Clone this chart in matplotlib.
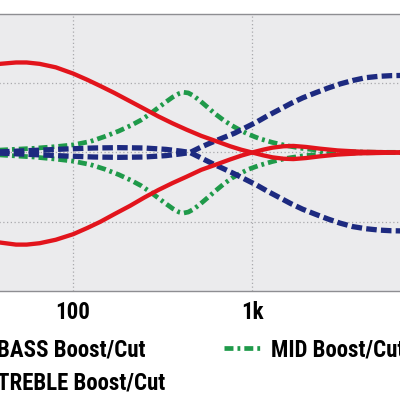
import matplotlib
matplotlib.use("Agg")
import matplotlib.pyplot as plt
from matplotlib.ticker import FixedLocator, NullLocator

COLOR_BASS = "#e2141c"
COLOR_MID = "#1f9a4a"
COLOR_TREBLE = "#1d2a80"
COLOR_FONDO = "#ebebed"
COLOR_GRID = "#a9a9ad"

FUENTE = ["Roboto Condensed", "Liberation Sans Narrow", "DejaVu Sans"]

# Frecuencias (Hz) y respuesta (dB) de cada control
bass_freq = [20, 30, 39, 48, 55, 65, 80, 100, 120, 142, 170, 208, 250, 300,
             360, 430, 520, 620, 754, 870, 1000, 1150, 1300, 1500, 1700,
             2000, 2400, 3000, 4000, 6000, 20000]
bass_boost = [11.0, 12.3, 12.8, 13.0, 13.0, 12.8, 12.3, 11.4, 10.5, 9.6,
              8.6, 7.4, 6.3, 5.2, 4.2, 3.3, 2.4, 1.7, 0.9, 0.4, 0.0, -0.4,
              -0.7, -0.9, -0.95, -0.8, -0.55, -0.3, -0.12, -0.03, 0.0]
bass_cut = [-11.2, -12.5, -13.0, -13.3, -13.3, -13.1, -12.6, -11.8, -10.9,
            -10.0, -8.9, -7.7, -6.5, -5.4, -4.4, -3.5, -2.5, -1.8, -1.0,
            -0.45, 0.0, 0.4, 0.7, 0.9, 0.95, 0.8, 0.55, 0.3, 0.12, 0.03, 0.0]

mid_freq = [20, 39, 60, 80, 100, 125, 150, 180, 210, 240, 270, 300, 330,
            360, 390, 412, 440, 470, 510, 560, 620, 690, 770, 860, 960,
            1100, 1300, 1550, 1900, 2400, 3200, 5000, 20000]
mid_boost = [0.1, 0.35, 0.6, 0.85, 1.1, 1.6, 2.3, 3.1, 3.9, 4.7, 5.6, 6.5,
             7.3, 8.0, 8.5, 8.7, 8.6, 8.2, 7.5, 6.6, 5.6, 4.7, 3.9, 3.2,
             2.6, 2.0, 1.45, 1.0, 0.6, 0.3, 0.12, 0.03, 0.0]
mid_cut = [-0.1, -0.35, -0.65, -0.95, -1.25, -1.75, -2.4, -3.2, -4.0,
           -4.8, -5.7, -6.6, -7.4, -8.1, -8.6, -8.75, -8.6, -8.2, -7.5,
           -6.6, -5.6, -4.6, -3.7, -3.0, -2.4, -1.85, -1.3, -0.85, -0.5,
           -0.25, -0.1, -0.02, 0.0]

treble_freq = [20, 40, 60, 90, 130, 180, 250, 330, 400, 450, 520, 600, 700,
               800, 920, 1060, 1220, 1420, 1650, 1920, 2250, 2650, 3100,
               3650, 4300, 5100, 6000, 8000, 20000]
treble_boost = [0.0, -0.1, -0.3, -0.5, -0.65, -0.7, -0.65, -0.45, -0.2,
                0.0, 0.8, 1.5, 2.2, 2.8, 3.6, 4.4, 5.3, 6.2, 7.1, 7.9, 8.6,
                9.3, 9.9, 10.4, 10.8, 11.0, 11.1, 11.15, 11.2]
treble_cut = [0.0, 0.1, 0.3, 0.5, 0.65, 0.7, 0.65, 0.45, 0.2, 0.0, -0.8,
              -1.6, -2.4, -3.1, -3.9, -4.7, -5.6, -6.5, -7.4, -8.2, -8.9,
              -9.6, -10.2, -10.7, -11.0, -11.2, -11.3, -11.35, -11.4]

x_ticks = [10, 100, 1000, 10000]
x_tick_labels = ["10", "100", "1k", "10k"]
y_grid = [-10, 0, 10]

fig = plt.figure(figsize=(4, 4), dpi=100)
# El área de trazo se sale del lienzo por los lados (recorte de la referencia)
ax = fig.add_axes([-0.130, 0.2725, 1.3425, 0.6925])
ax.set_facecolor(COLOR_FONDO)
ax.set_xscale("log")
ax.set_xlim(20, 20000)
ax.set_ylim(-20, 20)

estilo_mid = dict(color=COLOR_MID, lw=3.4, dashes=(1.9, 0.85, 0.6, 0.85))
estilo_treble = dict(color=COLOR_TREBLE, lw=3.8, dashes=(2.0, 0.8))
estilo_bass = dict(color=COLOR_BASS, lw=3.1, solid_capstyle="round")

l_mid, = ax.plot(mid_freq, mid_boost, **estilo_mid)
ax.plot(mid_freq, mid_cut, **estilo_mid)
l_treble, = ax.plot(treble_freq, treble_boost, **estilo_treble)
ax.plot(treble_freq, treble_cut, **estilo_treble)
l_bass, = ax.plot(bass_freq, bass_boost, **estilo_bass)
ax.plot(bass_freq, bass_cut, **estilo_bass)

ax.xaxis.set_major_locator(FixedLocator(x_ticks))
ax.xaxis.set_minor_locator(NullLocator())
ax.set_xticklabels(x_tick_labels)
ax.yaxis.set_major_locator(FixedLocator(y_grid))
ax.set_yticklabels([])
ax.tick_params(length=0, pad=7)
for lbl in ax.get_xticklabels():
    lbl.set_fontfamily(FUENTE)
    lbl.set_fontweight("bold")
    lbl.set_fontstretch("condensed")
    lbl.set_fontsize(16.5)
ax.grid(True, color=COLOR_GRID, linestyle=(0, (1, 2)), linewidth=0.9)
ax.set_axisbelow(True)
for lado in ("left", "right"):
    ax.spines[lado].set_visible(False)
for lado in ("top", "bottom"):
    ax.spines[lado].set_color("#8e8e92")
    ax.spines[lado].set_linewidth(1.0)

fig.legend([l_bass, l_treble, l_mid],
           ["BASS Boost/Cut", "TREBLE Boost/Cut", "MID Boost/Cut"],
           ncol=2, loc="upper left", bbox_to_anchor=(-0.125, 0.155),
           frameon=False, borderpad=0, borderaxespad=0,
           handlelength=1.7, handletextpad=0.35, columnspacing=2.56,
           labelspacing=0.44,
           prop=dict(family=FUENTE, weight="bold", stretch="condensed",
                     size=16.5))

fig.savefig("out.png", dpi=100, facecolor="white")
